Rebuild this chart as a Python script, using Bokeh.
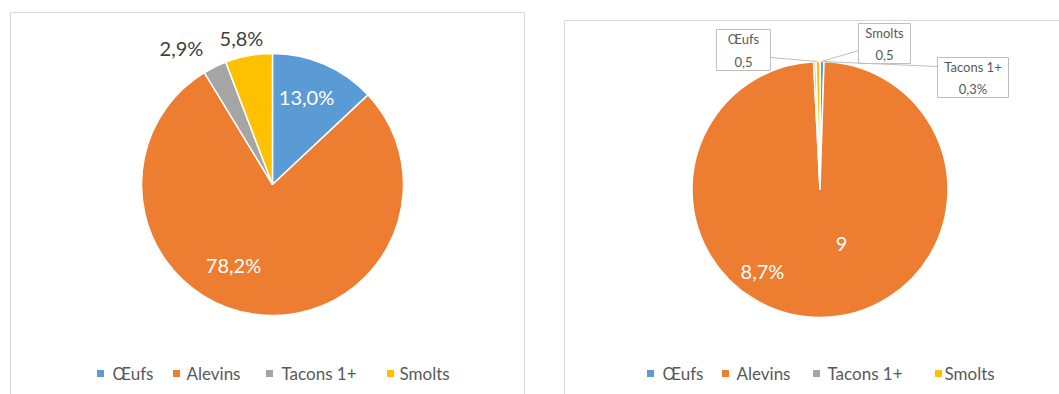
import math
from bokeh.plotting import figure
from bokeh.models import Range1d, ColumnDataSource
from bokeh.core.properties import value
from bokeh.embed import file_html
from bokeh.resources import INLINE

# ---------------- data ----------------
categories = ["Œufs", "Alevins", "Tacons 1+", "Smolts"]
left_values = [13.0, 78.2, 2.9, 5.8]
right_values = [0.5, 98.7, 0.3, 0.5]
colors = ["#5B9BD5", "#ED7D31", "#A5A5A5", "#FFC000"]
left_labels = ["13,0%", "78,2%", "2,9%", "5,8%"]
right_labels = ["Œufs\n0,5", "9", "Tacons 1+\n0,3%", "Smolts\n0,5"]
right_extra_label = "8,7%"

W, H = 1059, 394
FONT = "Lato"

p = figure(width=W, height=H, output_backend="svg", toolbar_location=None,
           x_range=Range1d(0, W), y_range=Range1d(0, H), min_border=0)
p.axis.visible = False
p.grid.visible = False
p.outline_line_color = None
p.background_fill_color = "white"
p.border_fill_color = "white"


def Y(py):
    return H - py


# panel frames
p.quad(left=[10], right=[524], bottom=[Y(400)], top=[Y(12)],
       fill_alpha=0, line_color="#D9D9D9", line_width=1)
p.quad(left=[564], right=[1075], bottom=[Y(400)], top=[Y(20)],
       fill_alpha=0, line_color="#D9D9D9", line_width=1)


def pie(cx, cy, r, vals):
    tot = float(sum(vals))
    starts, ends = [], []
    acc = 0.0
    for v in vals:
        starts.append(math.pi / 2 - acc / tot * 2 * math.pi)
        acc += v
        ends.append(math.pi / 2 - acc / tot * 2 * math.pi)
    src = ColumnDataSource(dict(x=[cx] * len(vals), y=[cy] * len(vals),
                                start=starts, end=ends, color=colors))
    p.wedge(x="x", y="y", radius=r, start_angle="start", end_angle="end",
            direction="clock", fill_color="color", line_color="white",
            line_width=1.5, source=src)


pie(272, Y(184), 131, left_values)
pie(819.5, Y(189), 128, right_values)

# left labels
lx = [306, 233, 181, 241]
ly = [96, 264, 47, 37]
lcol = ["white", "white", "#404040", "#404040"]
p.text(x=lx, y=[Y(v) for v in ly], text=left_labels, text_color=lcol,
       text_font=value(FONT), text_font_size="20px",
       text_align="center", text_baseline="middle")

# right callout boxes and leader lines
boxes = [(716, 770, 29, 70), (937, 1008, 57, 97), (858, 910, 23, 63)]
for (l, r_, t, b) in boxes:
    p.quad(left=[l], right=[r_], bottom=[Y(b)], top=[Y(t)],
           fill_color="white", line_color="#BFBFBF", line_width=1)
leaders = [([770, 817], [57, 61]), ([937, 823], [66, 61]), ([858, 821], [50, 61])]
for xs, ys in leaders:
    p.line(x=xs, y=[Y(v) for v in ys], line_color="#BFBFBF", line_width=1)

rx = [743, 972.5, 884]
ry = [50, 77.5, 43.5]
p.text(x=rx, y=[Y(v) for v in ry],
       text=[right_labels[0], right_labels[2], right_labels[3]],
       text_color="#595959", text_font=value(FONT), text_font_size="13px",
       text_align="center", text_baseline="middle", text_line_height=1.4)

p.text(x=[841, 762], y=[Y(243), Y(270)], text=[right_labels[1], right_extra_label],
       text_color="white", text_font=value(FONT), text_font_size="20px",
       text_align="center", text_baseline="middle")

# legends
leg_sq_left = [100, 176, 269, 390]
leg_tx_left = [112, 186, 281, 399]
leg_sq_right = [650, 725, 816, 938]
leg_tx_right = [662, 736, 827, 944]
for sqs, txs in ((leg_sq_left, leg_tx_left), (leg_sq_right, leg_tx_right)):
    p.rect(x=sqs, y=[Y(373)] * 4, width=7, height=7, fill_color=colors,
           line_color=None)
    p.text(x=txs, y=[Y(373)] * 4, text=categories, text_color="#595959",
           text_font=value(FONT), text_font_size="17px",
           text_align="left", text_baseline="middle")

open("out.html", "w").write(file_html(p, INLINE))
